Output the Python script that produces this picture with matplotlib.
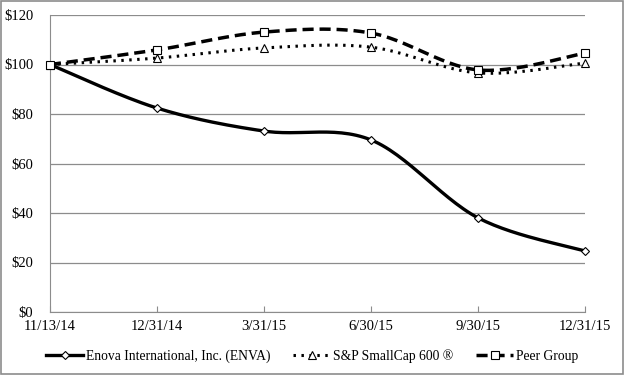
import numpy as np
import matplotlib
matplotlib.use("Agg")
import matplotlib.pyplot as plt
from matplotlib.patches import Rectangle

dates = ["11/13/14", "12/31/14", "3/31/15", "6/30/15", "9/30/15", "12/31/15"]
enova = [100.0, 82.4, 73.1, 69.5, 38.0, 24.6]
sp600 = [100.0, 102.6, 106.7, 107.0, 96.6, 100.6]
peer = [100.0, 105.9, 113.1, 112.7, 97.8, 104.6]


def smooth(x, y, n=30):
    # Excel-style smoothed line: cubic Bezier with Catmull-Rom control points
    x = np.asarray(x, float)
    y = np.asarray(y, float)
    xs, ys = [], []
    t = np.linspace(0, 1, n)
    for i in range(len(x) - 1):
        p0 = np.array([x[max(i - 1, 0)], y[max(i - 1, 0)]])
        p1 = np.array([x[i], y[i]])
        p2 = np.array([x[i + 1], y[i + 1]])
        p3 = np.array([x[min(i + 2, len(x) - 1)], y[min(i + 2, len(x) - 1)]])
        c1 = p1 + (p2 - p0) / 6
        c2 = p2 - (p3 - p1) / 6
        pts = (np.outer((1 - t) ** 3, p1) + np.outer(3 * (1 - t) ** 2 * t, c1)
               + np.outer(3 * (1 - t) * t ** 2, c2) + np.outer(t ** 3, p2))
        xs.extend(pts[:, 0])
        ys.extend(pts[:, 1])
    return xs, ys


plt.rcParams["font.family"] = ["Liberation Serif", "DejaVu Serif"]
plt.rcParams["font.size"] = 10.5

fig = plt.figure(figsize=(6.24, 3.75), dpi=100)
ax = fig.add_axes([0.080, 0.168, 0.858, 0.792])
fig.patches.append(Rectangle((0.002, 0.003), 0.996, 0.994, transform=fig.transFigure,
                             fill=False, edgecolor="#8c8c8c", linewidth=1.2))

x = np.arange(len(dates))
series = [
    (enova, "Enova International, Inc. (ENVA)", "-", "D", 2.4, 4.0),
    (sp600, "S&P SmallCap 600 ®", (0, (0.8, 1.8)), "^", 2.2, 5.5),
    (peer, "Peer Group", (0, (3.2, 1.7)), "s", 2.5, 5.5),
]
handles = []
for vals, label, ls, mk, lw, ms in series:
    sx, sy = smooth(x, vals)
    ax.plot(sx, sy, color="black", linestyle=ls, linewidth=lw, zorder=3,
            solid_capstyle="butt", dash_capstyle="butt")
    ax.plot(x, vals, linestyle="none", marker=mk, markersize=ms,
            markerfacecolor="white", markeredgecolor="black", markeredgewidth=0.8,
            zorder=4, clip_on=False)
    h, = ax.plot([], [], color="black", linestyle=ls, linewidth=lw, marker=mk,
                 markersize=ms, markerfacecolor="white",
                 markeredgecolor="black", markeredgewidth=0.8, label=label)
    handles.append(h)

ax.set_xlim(0, len(dates) - 1)
ax.set_ylim(0, 120)
ax.set_yticks(range(0, 121, 20))
ax.set_yticklabels([f"${v}" for v in range(0, 121, 20)])
ax.set_xticks(x)
ax.set_xticklabels(dates)
ax.grid(axis="y", color="#8c8c8c", linewidth=0.9)
ax.set_axisbelow(True)
for s in ["top", "right"]:
    ax.spines[s].set_visible(False)
for s in ["left", "bottom"]:
    ax.spines[s].set_color("#8c8c8c")
ax.tick_params(axis="y", length=0, pad=12)
ax.tick_params(axis="x", direction="in", length=4, color="#8c8c8c", pad=6)

fig.legend(handles=handles, loc="lower center", ncol=3, frameon=False,
           bbox_to_anchor=(0.5, 0.0), handlelength=2.7, columnspacing=1.7,
           handletextpad=0.2, fontsize=9.8)

fig.savefig("out.png", dpi=100, facecolor="white")
